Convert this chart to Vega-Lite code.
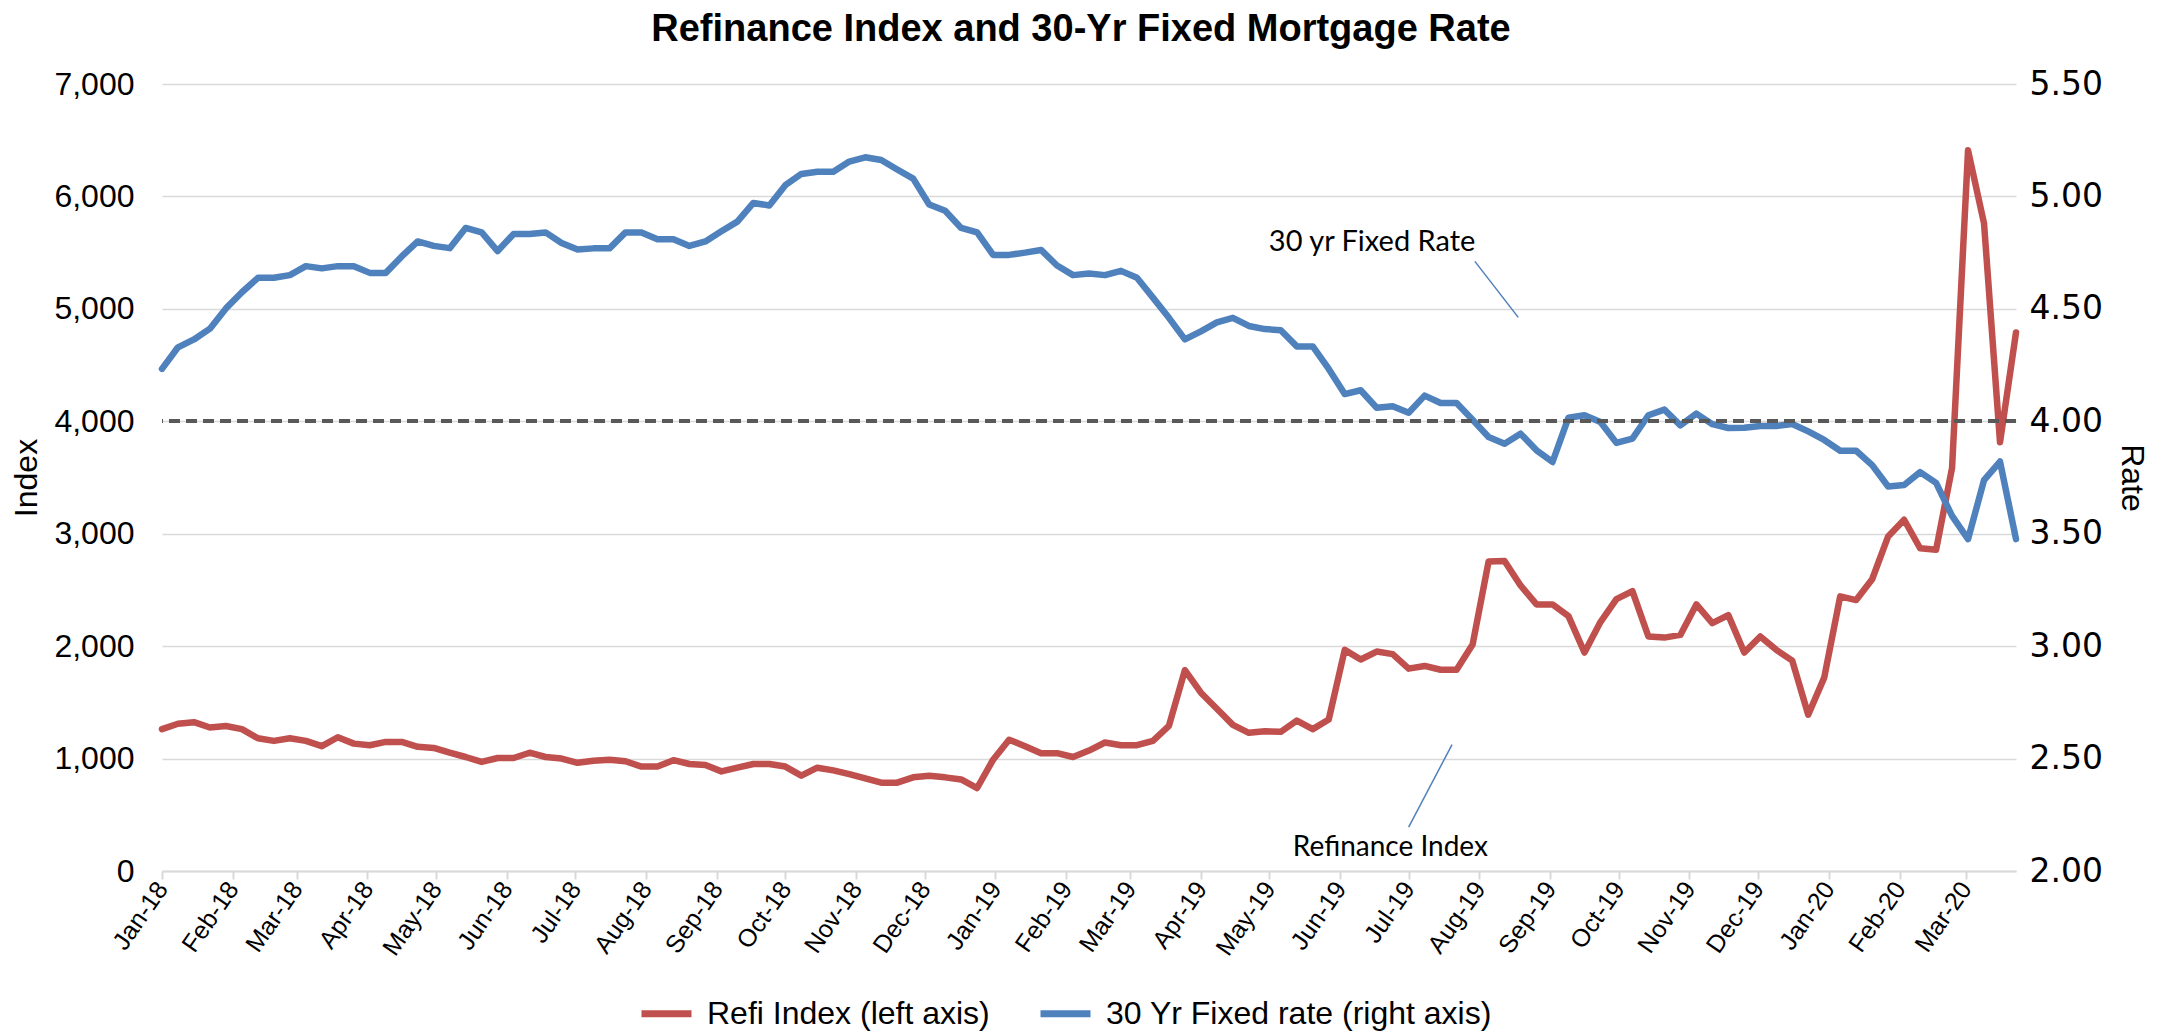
{
  "$schema": "https://vega.github.io/schema/vega-lite/v6.json",
  "width": 1854,
  "height": 787,
  "autosize": {"type": "none"},
  "padding": {"left": 162, "top": 84, "right": 150, "bottom": 162},
  "background": "white",
  "config": {"font": "Liberation Sans", "view": {"stroke": null}},
  "title": {"text": "Refinance Index and 30-Yr Fixed Mortgage Rate", "fontSize": 38, "fontWeight": "bold", "font": "Liberation Sans", "color": "#000000", "anchor": "middle", "offset": 19, "dx": -8},
  "data": {"values": [
    {"d":"2018-01-05","refi":1262,"rate":4.233},{"d":"2018-01-12","refi":1310,"rate":4.329},{"d":"2018-01-19","refi":1324,"rate":4.364},{"d":"2018-01-26","refi":1276,"rate":4.412},
    {"d":"2018-02-02","refi":1290,"rate":4.502},{"d":"2018-02-09","refi":1262,"rate":4.574},{"d":"2018-02-16","refi":1181,"rate":4.638},{"d":"2018-02-23","refi":1157,"rate":4.638},
    {"d":"2018-03-02","refi":1181,"rate":4.65},{"d":"2018-03-09","refi":1157,"rate":4.69},{"d":"2018-03-16","refi":1110,"rate":4.68},{"d":"2018-03-23","refi":1190,"rate":4.69},{"d":"2018-03-30","refi":1133,"rate":4.69},
    {"d":"2018-04-06","refi":1119,"rate":4.66},{"d":"2018-04-13","refi":1148,"rate":4.66},{"d":"2018-04-20","refi":1148,"rate":4.733},{"d":"2018-04-27","refi":1105,"rate":4.80},
    {"d":"2018-05-04","refi":1095,"rate":4.78},{"d":"2018-05-11","refi":1052,"rate":4.77},{"d":"2018-05-18","refi":1014,"rate":4.86},{"d":"2018-05-25","refi":970,"rate":4.84},
    {"d":"2018-06-01","refi":1005,"rate":4.757},{"d":"2018-06-08","refi":1005,"rate":4.833},{"d":"2018-06-15","refi":1052,"rate":4.833},{"d":"2018-06-22","refi":1014,"rate":4.84},{"d":"2018-06-29","refi":1000,"rate":4.793},
    {"d":"2018-07-06","refi":962,"rate":4.764},{"d":"2018-07-13","refi":981,"rate":4.769},{"d":"2018-07-20","refi":990,"rate":4.769},{"d":"2018-07-27","refi":976,"rate":4.84},
    {"d":"2018-08-03","refi":929,"rate":4.84},{"d":"2018-08-10","refi":929,"rate":4.81},{"d":"2018-08-17","refi":986,"rate":4.81},{"d":"2018-08-24","refi":952,"rate":4.78},{"d":"2018-08-31","refi":943,"rate":4.80},
    {"d":"2018-09-07","refi":886,"rate":4.845},{"d":"2018-09-14","refi":919,"rate":4.888},{"d":"2018-09-21","refi":952,"rate":4.971},{"d":"2018-09-28","refi":952,"rate":4.96},
    {"d":"2018-10-05","refi":929,"rate":5.05},{"d":"2018-10-12","refi":848,"rate":5.10},{"d":"2018-10-19","refi":919,"rate":5.11},{"d":"2018-10-26","refi":895,"rate":5.11},
    {"d":"2018-11-02","refi":862,"rate":5.155},{"d":"2018-11-09","refi":824,"rate":5.174},{"d":"2018-11-16","refi":786,"rate":5.162},{"d":"2018-11-23","refi":786,"rate":5.12},{"d":"2018-11-30","refi":833,"rate":5.079},
    {"d":"2018-12-07","refi":848,"rate":4.964},{"d":"2018-12-14","refi":833,"rate":4.936},{"d":"2018-12-21","refi":814,"rate":4.86},{"d":"2018-12-28","refi":738,"rate":4.84},
    {"d":"2019-01-04","refi":990,"rate":4.74},{"d":"2019-01-11","refi":1167,"rate":4.74},{"d":"2019-01-18","refi":1110,"rate":4.75},{"d":"2019-01-25","refi":1048,"rate":4.762},
    {"d":"2019-02-01","refi":1048,"rate":4.693},{"d":"2019-02-08","refi":1014,"rate":4.65},{"d":"2019-02-15","refi":1071,"rate":4.657},{"d":"2019-02-22","refi":1143,"rate":4.65},
    {"d":"2019-03-01","refi":1119,"rate":4.669},{"d":"2019-03-08","refi":1119,"rate":4.638},{"d":"2019-03-15","refi":1157,"rate":4.55},{"d":"2019-03-22","refi":1290,"rate":4.46},{"d":"2019-03-29","refi":1786,"rate":4.364},
    {"d":"2019-04-05","refi":1586,"rate":4.40},{"d":"2019-04-12","refi":1443,"rate":4.44},{"d":"2019-04-19","refi":1300,"rate":4.46},{"d":"2019-04-26","refi":1229,"rate":4.424},
    {"d":"2019-05-03","refi":1243,"rate":4.41},{"d":"2019-05-10","refi":1238,"rate":4.405},{"d":"2019-05-17","refi":1338,"rate":4.333},{"d":"2019-05-24","refi":1262,"rate":4.333},{"d":"2019-05-31","refi":1348,"rate":4.233},
    {"d":"2019-06-07","refi":1967,"rate":4.121},{"d":"2019-06-14","refi":1881,"rate":4.138},{"d":"2019-06-21","refi":1952,"rate":4.06},{"d":"2019-06-28","refi":1929,"rate":4.067},
    {"d":"2019-07-05","refi":1800,"rate":4.038},{"d":"2019-07-12","refi":1824,"rate":4.114},{"d":"2019-07-19","refi":1790,"rate":4.081},{"d":"2019-07-26","refi":1790,"rate":4.081},
    {"d":"2019-08-02","refi":2014,"rate":4.007},{"d":"2019-08-09","refi":2752,"rate":3.93},{"d":"2019-08-16","refi":2757,"rate":3.90},{"d":"2019-08-23","refi":2540,"rate":3.945},{"d":"2019-08-30","refi":2371,"rate":3.871},
    {"d":"2019-09-06","refi":2371,"rate":3.819},{"d":"2019-09-13","refi":2267,"rate":4.016},{"d":"2019-09-20","refi":1943,"rate":4.027},{"d":"2019-09-27","refi":2214,"rate":3.997},
    {"d":"2019-10-04","refi":2419,"rate":3.904},{"d":"2019-10-11","refi":2490,"rate":3.923},{"d":"2019-10-18","refi":2086,"rate":4.027},{"d":"2019-10-25","refi":2076,"rate":4.052},
    {"d":"2019-11-01","refi":2100,"rate":3.982},{"d":"2019-11-08","refi":2371,"rate":4.034},{"d":"2019-11-15","refi":2205,"rate":3.987},{"d":"2019-11-22","refi":2276,"rate":3.97},{"d":"2019-11-29","refi":1943,"rate":3.971},
    {"d":"2019-12-06","refi":2086,"rate":3.979},{"d":"2019-12-13","refi":1967,"rate":3.979},{"d":"2019-12-20","refi":1871,"rate":3.988},{"d":"2019-12-27","refi":1390,"rate":3.955},
    {"d":"2020-01-03","refi":1720,"rate":3.917},{"d":"2020-01-10","refi":2443,"rate":3.869},{"d":"2020-01-17","refi":2410,"rate":3.869},{"d":"2020-01-24","refi":2595,"rate":3.805},{"d":"2020-01-31","refi":2976,"rate":3.71},
    {"d":"2020-02-07","refi":3124,"rate":3.717},{"d":"2020-02-14","refi":2871,"rate":3.774},{"d":"2020-02-21","refi":2857,"rate":3.726},{"d":"2020-02-28","refi":3586,"rate":3.579},
    {"d":"2020-03-06","refi":6410,"rate":3.476},{"d":"2020-03-13","refi":5760,"rate":3.738},{"d":"2020-03-20","refi":3814,"rate":3.821},{"d":"2020-03-27","refi":4790,"rate":3.476}
  ]},
  "layer": [
    {
      "layer": [
        {
          "mark": {"type": "line", "strokeWidth": 6.5, "strokeCap": "round", "strokeJoin": "round"},
          "encoding": {
            "x": {
              "field": "d", "type": "temporal",
              "scale": {"type": "utc", "domain": [{"year": 2018, "month": 1, "date": 5, "utc": true}, {"year": 2020, "month": 3, "date": 27, "utc": true}]},
              "axis": {
                "title": null, "format": "%b-%y", "labelAngle": -55, "labelAlign": "right", "labelBaseline": "middle",
                "labelFontSize": 25, "labelColor": "#000000", "labelPadding": 5, "labelOverlap": false, "labelFlush": false,
                "domainColor": "#D9D9D9", "domainWidth": 2, "tickColor": "#D9D9D9", "tickWidth": 2, "tickSize": 8, "grid": false,
                "values": [
                  {"year":2018,"month":1,"date":5,"utc":true},{"year":2018,"month":2,"date":5,"utc":true},{"year":2018,"month":3,"date":5,"utc":true},
                  {"year":2018,"month":4,"date":5,"utc":true},{"year":2018,"month":5,"date":5,"utc":true},{"year":2018,"month":6,"date":5,"utc":true},
                  {"year":2018,"month":7,"date":5,"utc":true},{"year":2018,"month":8,"date":5,"utc":true},{"year":2018,"month":9,"date":5,"utc":true},
                  {"year":2018,"month":10,"date":5,"utc":true},{"year":2018,"month":11,"date":5,"utc":true},{"year":2018,"month":12,"date":5,"utc":true},
                  {"year":2019,"month":1,"date":5,"utc":true},{"year":2019,"month":2,"date":5,"utc":true},{"year":2019,"month":3,"date":5,"utc":true},
                  {"year":2019,"month":4,"date":5,"utc":true},{"year":2019,"month":5,"date":5,"utc":true},{"year":2019,"month":6,"date":5,"utc":true},
                  {"year":2019,"month":7,"date":5,"utc":true},{"year":2019,"month":8,"date":5,"utc":true},{"year":2019,"month":9,"date":5,"utc":true},
                  {"year":2019,"month":10,"date":5,"utc":true},{"year":2019,"month":11,"date":5,"utc":true},{"year":2019,"month":12,"date":5,"utc":true},
                  {"year":2020,"month":1,"date":5,"utc":true},{"year":2020,"month":2,"date":5,"utc":true},{"year":2020,"month":3,"date":5,"utc":true}
                ]
              }
            },
            "y": {
              "field": "refi", "type": "quantitative",
              "scale": {"domain": [0, 7000], "nice": false},
              "axis": {
                "title": "Index", "orient": "left", "values": [0,1000,2000,3000,4000,5000,6000,7000], "format": ",.0f",
                "grid": true, "gridColor": "#D9D9D9", "gridWidth": 1.5, "domain": false, "ticks": false,
                "labelFontSize": 32, "labelColor": "#000000", "labelPadding": 28,
                "titleFontSize": 32, "titleFontWeight": "normal", "titleColor": "#000000", "titlePadding": 10
              }
            },
            "color": {
              "datum": "Refi Index (left axis)",
              "scale": {"domain": ["Refi Index (left axis)", "30 Yr Fixed rate (right axis)"], "range": ["#C0504D", "#4F81BD"]},
              "legend": {
                "orient": "none", "legendX": 476, "legendY": 901, "direction": "horizontal", "title": null,
                "labelFontSize": 32, "labelColor": "#000000", "labelFont": "Liberation Sans", "labelLimit": 0,
                "symbolType": "stroke", "symbolSize": 2500, "symbolStrokeWidth": 7, "columnPadding": 36, "labelOffset": 12,
                "symbolOpacity": 1
              }
            }
          }
        },
        {
          "data": {"values": [{"d": "2019-07-05", "v": 391, "d2": "2019-07-24", "v2": 1124}]},
          "mark": {"type": "rule", "color": "#4F81BD", "strokeWidth": 1.5},
          "encoding": {
            "x": {"field": "d", "type": "temporal"}, "x2": {"field": "d2"},
            "y": {"field": "v", "type": "quantitative"}, "y2": {"field": "v2"}
          }
        },
        {
          "data": {"values": [{"d": "2019-06-27", "v": 204, "label": "Refinance Index"}]},
          "mark": {"type": "text", "font": "Lato", "fontSize": 28, "color": "#000000", "baseline": "middle", "align": "center"},
          "encoding": {
            "x": {"field": "d", "type": "temporal"},
            "y": {"field": "v", "type": "quantitative"},
            "text": {"field": "label"}
          }
        }
      ]
    },
    {
      "layer": [
        {
          "mark": {"type": "line", "strokeWidth": 6.5, "strokeCap": "round", "strokeJoin": "round"},
          "encoding": {
            "x": {"field": "d", "type": "temporal"},
            "y": {
              "field": "rate", "type": "quantitative",
              "scale": {"domain": [2, 5.5], "nice": false, "zero": false},
              "axis": {
                "title": "Rate", "orient": "right", "values": [2,2.5,3,3.5,4,4.5,5,5.5], "format": ".2f",
                "grid": false, "domain": false, "ticks": false,
                "labelFont": "DejaVu Sans", "labelFontSize": 33, "labelColor": "#000000", "labelPadding": 13,
                "titleFontSize": 32, "titleFontWeight": "normal", "titleColor": "#000000", "titlePadding": 12
              }
            },
            "color": {"datum": "30 Yr Fixed rate (right axis)"}
          }
        },
        {
          "data": {"values": [{"d": "2019-08-03", "v": 4.711, "d2": "2019-08-22", "v2": 4.462}]},
          "mark": {"type": "rule", "color": "#4F81BD", "strokeWidth": 1.5},
          "encoding": {
            "x": {"field": "d", "type": "temporal"}, "x2": {"field": "d2"},
            "y": {"field": "v", "type": "quantitative"}, "y2": {"field": "v2"}
          }
        },
        {
          "data": {"values": [{"d": "2019-06-19", "v": 4.796, "label": "30 yr Fixed Rate"}]},
          "mark": {"type": "text", "font": "Lato", "fontSize": 29, "color": "#000000", "baseline": "middle", "align": "center"},
          "encoding": {
            "x": {"field": "d", "type": "temporal"},
            "y": {"field": "v", "type": "quantitative"},
            "text": {"field": "label"}
          }
        },
        {
          "mark": {"type": "rule", "color": "#595959", "strokeWidth": 3, "strokeDash": [11, 6]},
          "encoding": {"y": {"datum": 4}}
        }
      ]
    }
  ],
  "resolve": {"scale": {"y": "independent"}}
}
